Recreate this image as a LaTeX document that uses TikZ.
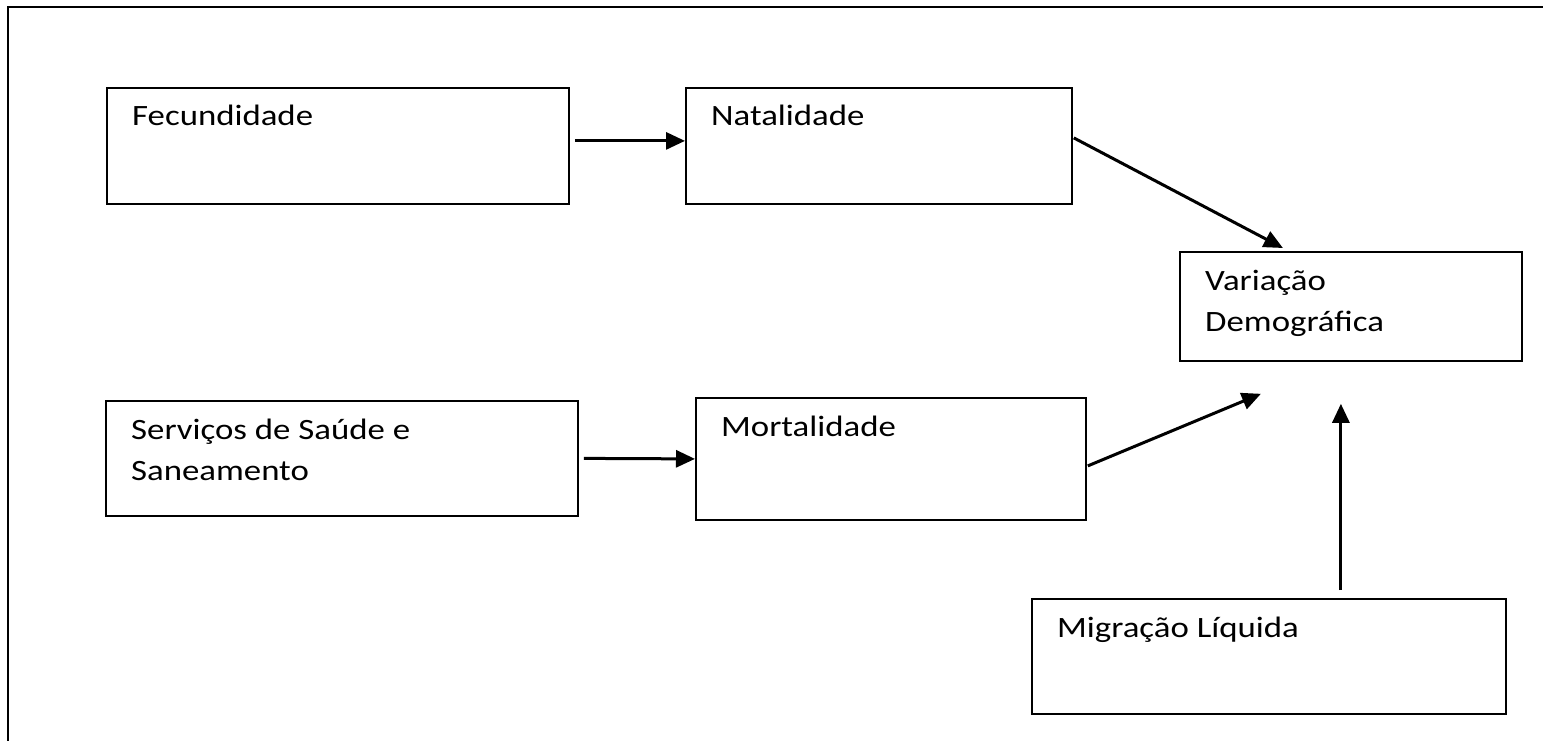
\documentclass[tikz,border=0pt]{standalone}
\usepackage{fontspec}
\setmainfont{Carlito}[FakeStretch=1.18]
\usetikzlibrary{positioning, arrows.meta}

\begin{document}
\begin{tikzpicture}[
        x=1pt, y=-1pt,
        font=\fontsize{29.5}{41}\selectfont,
        >={Triangle[length=19pt,width=17pt]},
        box/.style={draw, line width=1.8pt, anchor=north west, inner sep=0pt},
        boxtext/.style={anchor=base west, align=left, inner sep=0pt, xshift=26pt, yshift=-39pt},
        boxtexttwo/.style={boxtext, yshift=-41pt},
        link/.style={->, line width=3pt},
      ]
        \useasboundingbox (0,0) rectangle (1543,741);
        % moldura
        \draw[line width=1.8pt] (1543,7) -- (8,7) -- (8,741);

        \node[box, minimum width=462pt, minimum height=116pt, label={[boxtext]north west:Fecundidade}] (fec) at (106,87) {};
        \node[box, minimum width=386pt, minimum height=116pt, label={[boxtext]north west:Natalidade}] (nat) at (685,87) {};
        \node[box, minimum width=342pt, minimum height=109pt, label={[boxtexttwo]north west:Variação\\Demográfica}] (var) at (1179,251) {};
        \node[box, minimum width=472pt, minimum height=115pt, label={[boxtexttwo]north west:Serviços de Saúde e\\Saneamento}] (serv) at (105,400) {};
        \node[box, minimum width=390pt, minimum height=122pt, label={[boxtext]north west:Mortalidade}] (mort) at (695,397) {};
        \node[box, minimum width=474pt, minimum height=115pt, label={[boxtext]north west:Migração Líquida}] (mig) at (1031,598) {};

        \draw[link] ([shift={(5pt,5pt)}]fec.east) -- ([yshift=5pt]nat.west);
        \draw[link] ([shift={(1pt,8pt)}]nat.east) -- ([shift={(-68pt,3pt)}]var.north);
        \draw[link] ([xshift=5pt]serv.east) -- (mort.west);
        \draw[link] ([shift={(1pt,-7pt)}]mort.east) -- ([shift={(-90pt,-32pt)}]var.south);
        \draw[link] ([shift={(72pt,8pt)}]mig.north) -- ([shift={(-10pt,-42pt)}]var.south);
      \end{tikzpicture}
\end{document}
